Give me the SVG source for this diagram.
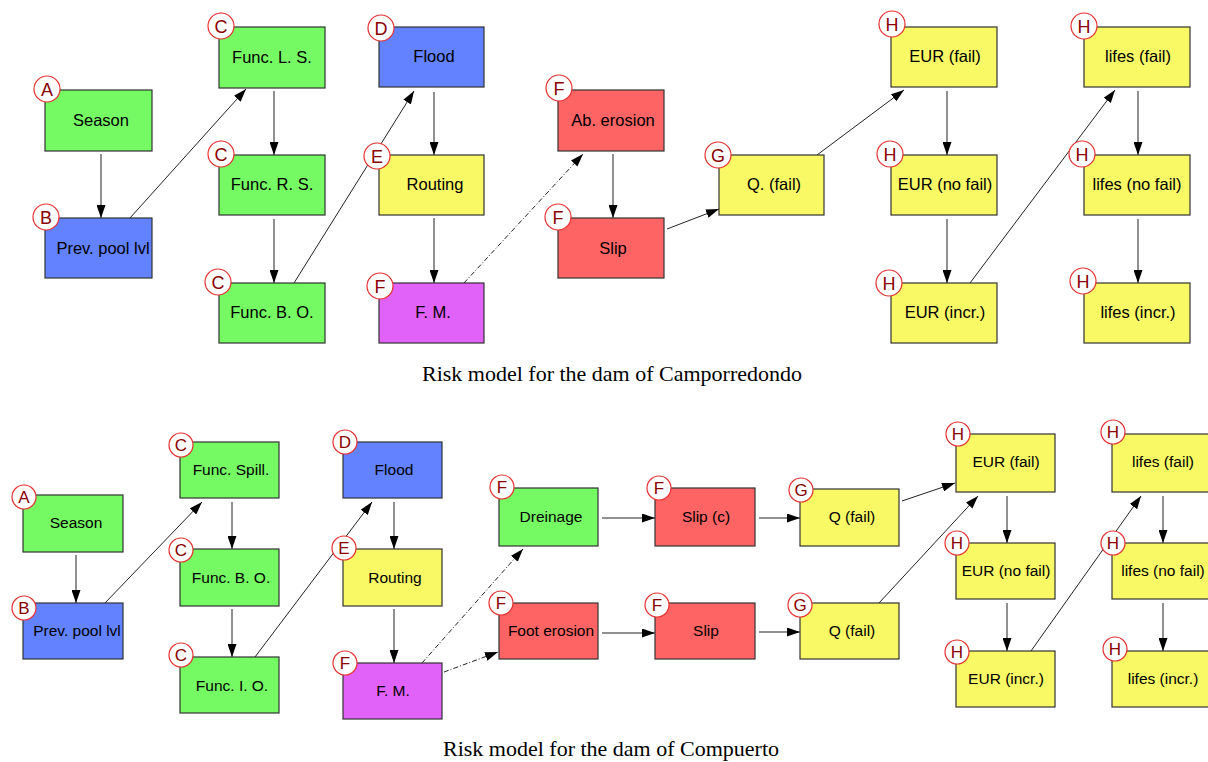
<svg xmlns="http://www.w3.org/2000/svg" width="1208" height="762" viewBox="0 0 1208 762">
<defs>
<style>
.box{stroke:#333;stroke-width:1.2}
.gr{fill:#76FA64}.bl{fill:#6282FF}.ye{fill:#F9F966}.rd{fill:#FF6464}.pu{fill:#E062F8}
.t1{font-family:"Liberation Sans",Arial,sans-serif;font-size:16.5px;fill:#000;text-anchor:middle}
.t2{font-family:"Liberation Sans",Arial,sans-serif;font-size:15.5px;fill:#000;text-anchor:middle}
.c{fill:#fff;stroke:#E83030;stroke-width:1.2}
.l1{font-family:"Liberation Sans",Arial,sans-serif;font-size:18px;fill:#8B0000;text-anchor:middle}
.l2{font-family:"Liberation Sans",Arial,sans-serif;font-size:17px;fill:#8B0000;text-anchor:middle}
.e{fill:none;stroke:#222;stroke-width:1;marker-end:url(#ah)}
.d{fill:none;stroke:#222;stroke-width:1;stroke-dasharray:5 2 1 2;marker-end:url(#ah)}
.title{font-family:"Liberation Serif","Times New Roman",serif;font-size:22px;fill:#000;text-anchor:middle}
</style>
<marker id="ah" markerUnits="userSpaceOnUse" markerWidth="13" markerHeight="9" refX="13" refY="4.5" orient="auto">
<path d="M0,0 L13,4.5 L0,9 z" fill="#000"/>
</marker>
</defs>
<rect width="1208" height="762" fill="#fff"/>

<g id="connectors">
<path class="e" d="M101,154 L101,218"/>
<path class="e" d="M130,218 L246,89"/>
<path class="e" d="M274,91 L274,155"/>
<path class="e" d="M274,219 L274,283"/>
<path class="e" d="M294,283 L414,91"/>
<path class="e" d="M434,92 L434,155"/>
<path class="e" d="M434,218 L434,283"/>
<path class="d" d="M464,283 L583,154"/>
<path class="e" d="M613,154 L613,218"/>
<path class="e" d="M667,229 L719,209"/>
<path class="e" d="M817,155 L904,90"/>
<path class="e" d="M947,91 L947,155"/>
<path class="e" d="M947,219 L947,283"/>
<path class="e" d="M970,283 L1115,90"/>
<path class="e" d="M1138,91 L1138,155"/>
<path class="e" d="M1138,219 L1138,283"/>

<path class="e" d="M76,555 L76,603"/>
<path class="e" d="M105,603 L202,502"/>
<path class="e" d="M232,502 L232,549"/>
<path class="e" d="M232,609 L232,657"/>
<path class="e" d="M255,657 L372,502"/>
<path class="e" d="M394,502 L394,549"/>
<path class="e" d="M394,609 L394,663"/>
<path class="d" d="M422,663 L523,549"/>
<path class="d" d="M444,672 L498,652"/>
<path class="e" d="M602,518 L655,518"/>
<path class="e" d="M602,633 L655,633"/>
<path class="e" d="M759,518 L800,518"/>
<path class="e" d="M759,632 L800,632"/>
<path class="e" d="M902,501 L955,483"/>
<path class="e" d="M879,603 L978,496"/>
<path class="e" d="M1007,496 L1007,543"/>
<path class="e" d="M1007,603 L1007,651"/>
<path class="e" d="M1031,651 L1141,496"/>
<path class="e" d="M1163,496 L1163,543"/>
<path class="e" d="M1163,603 L1163,651"/>
</g>

<!-- Top diagram: Camporredondo -->
<g id="n1-season"><rect class="box gr" x="45" y="90" width="107" height="61"/><text class="t1" x="101" y="126">Season</text><circle class="c" cx="47" cy="89" r="13"/><text class="l1" x="47" y="95.5">A</text></g>
<g id="n1-prev"><rect class="box bl" x="45" y="218" width="107" height="60"/><text class="t1" x="103" y="254">Prev. pool lvl</text><circle class="c" cx="46" cy="217" r="13"/><text class="l1" x="46" y="223.5">B</text></g>
<g id="n1-funcls"><rect class="box gr" x="219" y="27" width="106" height="61"/><text class="t1" x="272" y="63">Func. L. S.</text><circle class="c" cx="221" cy="26" r="13"/><text class="l1" x="221" y="32.5">C</text></g>
<g id="n1-funcrs"><rect class="box gr" x="219" y="155" width="106" height="60"/><text class="t1" x="272" y="190">Func. R. S.</text><circle class="c" cx="221" cy="154" r="13"/><text class="l1" x="221" y="160.5">C</text></g>
<g id="n1-funcbo"><rect class="box gr" x="219" y="283" width="106" height="60"/><text class="t1" x="272" y="318">Func. B. O.</text><circle class="c" cx="218" cy="282" r="13"/><text class="l1" x="218" y="288.5">C</text></g>
<g id="n1-flood"><rect class="box bl" x="379" y="27" width="105" height="60"/><text class="t1" x="434" y="62">Flood</text><circle class="c" cx="381" cy="28" r="13"/><text class="l1" x="381" y="34.5">D</text></g>
<g id="n1-routing"><rect class="box ye" x="379" y="155" width="105" height="60"/><text class="t1" x="435" y="190">Routing</text><circle class="c" cx="377" cy="156" r="13"/><text class="l1" x="377" y="162.5">E</text></g>
<g id="n1-fm"><rect class="box pu" x="379" y="283" width="105" height="60"/><text class="t1" x="433" y="318">F. M.</text><circle class="c" cx="380" cy="286" r="13"/><text class="l1" x="380" y="292.5">F</text></g>
<g id="n1-aberosion"><rect class="box rd" x="558" y="90" width="106" height="61"/><text class="t1" x="613" y="126">Ab. erosion</text><circle class="c" cx="559" cy="88" r="13"/><text class="l1" x="559" y="94.5">F</text></g>
<g id="n1-slip"><rect class="box rd" x="558" y="218" width="106" height="60"/><text class="t1" x="613" y="254">Slip</text><circle class="c" cx="558" cy="217" r="13"/><text class="l1" x="558" y="223.5">F</text></g>
<g id="n1-q"><rect class="box ye" x="719" y="155" width="105" height="60"/><text class="t1" x="774" y="190">Q. (fail)</text><circle class="c" cx="718" cy="155" r="13"/><text class="l1" x="718" y="161.5">G</text></g>
<g id="n1-eurf"><rect class="box ye" x="891" y="27" width="106" height="60"/><text class="t1" x="945" y="62">EUR (fail)</text><circle class="c" cx="892" cy="24" r="13"/><text class="l1" x="892" y="30.5">H</text></g>
<g id="n1-eurnf"><rect class="box ye" x="891" y="155" width="106" height="60"/><text class="t1" x="945" y="190">EUR (no fail)</text><circle class="c" cx="890" cy="154" r="13"/><text class="l1" x="890" y="160.5">H</text></g>
<g id="n1-euri"><rect class="box ye" x="891" y="283" width="106" height="60"/><text class="t1" x="945" y="318">EUR (incr.)</text><circle class="c" cx="889" cy="283" r="13"/><text class="l1" x="889" y="289.5">H</text></g>
<g id="n1-lf"><rect class="box ye" x="1084" y="27" width="106" height="60"/><text class="t1" x="1138" y="62">lifes (fail)</text><circle class="c" cx="1084" cy="26" r="13"/><text class="l1" x="1084" y="32.5">H</text></g>
<g id="n1-lnf"><rect class="box ye" x="1084" y="155" width="106" height="60"/><text class="t1" x="1137" y="190">lifes (no fail)</text><circle class="c" cx="1082" cy="154" r="13"/><text class="l1" x="1082" y="160.5">H</text></g>
<g id="n1-li"><rect class="box ye" x="1084" y="283" width="106" height="60"/><text class="t1" x="1138" y="318">lifes (incr.)</text><circle class="c" cx="1083" cy="281" r="13"/><text class="l1" x="1083" y="287.5">H</text></g>

<text class="title" x="612" y="381">Risk model for the dam of Camporredondo</text>

<!-- Bottom diagram: Compuerto -->
<g id="n2-season"><rect class="box gr" x="23" y="495" width="100" height="57"/><text class="t2" x="76" y="528">Season</text><circle class="c" cx="24" cy="497" r="12"/><text class="l2" x="24" y="503">A</text></g>
<g id="n2-prev"><rect class="box bl" x="23" y="603" width="100" height="56"/><text class="t2" x="77" y="636">Prev. pool lvl</text><circle class="c" cx="24" cy="608" r="12"/><text class="l2" x="24" y="614">B</text></g>
<g id="n2-funcspill"><rect class="box gr" x="180" y="442" width="99" height="56"/><text class="t2" x="231" y="475">Func. Spill.</text><circle class="c" cx="181" cy="445" r="12"/><text class="l2" x="181" y="451">C</text></g>
<g id="n2-funcbo"><rect class="box gr" x="180" y="549" width="99" height="57"/><text class="t2" x="231" y="583">Func. B. O.</text><circle class="c" cx="181" cy="550" r="12"/><text class="l2" x="181" y="556">C</text></g>
<g id="n2-funcio"><rect class="box gr" x="180" y="657" width="99" height="56"/><text class="t2" x="232" y="691">Func. I. O.</text><circle class="c" cx="181" cy="655" r="12"/><text class="l2" x="181" y="661">C</text></g>
<g id="n2-flood"><rect class="box bl" x="343" y="442" width="99" height="56"/><text class="t2" x="394" y="475">Flood</text><circle class="c" cx="345" cy="442" r="12"/><text class="l2" x="345" y="448">D</text></g>
<g id="n2-routing"><rect class="box ye" x="343" y="549" width="99" height="57"/><text class="t2" x="395" y="583">Routing</text><circle class="c" cx="344" cy="548" r="12"/><text class="l2" x="344" y="554">E</text></g>
<g id="n2-fm"><rect class="box pu" x="343" y="663" width="99" height="56"/><text class="t2" x="393" y="696">F. M.</text><circle class="c" cx="345" cy="663" r="12"/><text class="l2" x="345" y="669">F</text></g>
<g id="n2-dreinage"><rect class="box gr" x="499" y="488" width="99" height="58"/><text class="t2" x="551" y="522">Dreinage</text><circle class="c" cx="502" cy="487" r="12"/><text class="l2" x="502" y="493">F</text></g>
<g id="n2-foot"><rect class="box rd" x="499" y="603" width="99" height="56"/><text class="t2" x="551" y="636">Foot erosion</text><circle class="c" cx="501" cy="603" r="12"/><text class="l2" x="501" y="609">F</text></g>
<g id="n2-slipc"><rect class="box rd" x="655" y="488" width="100" height="58"/><text class="t2" x="706" y="522">Slip (c)</text><circle class="c" cx="659" cy="488" r="12"/><text class="l2" x="659" y="494">F</text></g>
<g id="n2-slip"><rect class="box rd" x="655" y="603" width="100" height="56"/><text class="t2" x="706" y="636">Slip</text><circle class="c" cx="657" cy="605" r="12"/><text class="l2" x="657" y="611">F</text></g>
<g id="n2-q1"><rect class="box ye" x="800" y="489" width="99" height="57"/><text class="t2" x="852" y="522">Q (fail)</text><circle class="c" cx="801" cy="490" r="12"/><text class="l2" x="801" y="496">G</text></g>
<g id="n2-q2"><rect class="box ye" x="800" y="603" width="99" height="56"/><text class="t2" x="852" y="636">Q (fail)</text><circle class="c" cx="800" cy="605" r="12"/><text class="l2" x="800" y="611">G</text></g>
<g id="n2-eurf"><rect class="box ye" x="956" y="434" width="99" height="58"/><text class="t2" x="1006" y="467">EUR (fail)</text><circle class="c" cx="958" cy="434" r="12"/><text class="l2" x="958" y="440">H</text></g>
<g id="n2-eurnf"><rect class="box ye" x="956" y="543" width="99" height="56"/><text class="t2" x="1006" y="576">EUR (no fail)</text><circle class="c" cx="957" cy="543" r="12"/><text class="l2" x="957" y="549">H</text></g>
<g id="n2-euri"><rect class="box ye" x="956" y="651" width="99" height="56"/><text class="t2" x="1006" y="684">EUR (incr.)</text><circle class="c" cx="957" cy="652" r="12"/><text class="l2" x="957" y="658">H</text></g>
<g id="n2-lf"><rect class="box ye" x="1112" y="434" width="99" height="58"/><text class="t2" x="1163" y="467">lifes (fail)</text><circle class="c" cx="1113" cy="432" r="12"/><text class="l2" x="1113" y="438">H</text></g>
<g id="n2-lnf"><rect class="box ye" x="1112" y="543" width="99" height="56"/><text class="t2" x="1163" y="576">lifes (no fail)</text><circle class="c" cx="1113" cy="543" r="12"/><text class="l2" x="1113" y="549">H</text></g>
<g id="n2-li"><rect class="box ye" x="1112" y="651" width="99" height="56"/><text class="t2" x="1163" y="684">lifes (incr.)</text><circle class="c" cx="1115" cy="649" r="12"/><text class="l2" x="1115" y="655">H</text></g>

<text class="title" x="611" y="756">Risk model for the dam of Compuerto</text>
</svg>
